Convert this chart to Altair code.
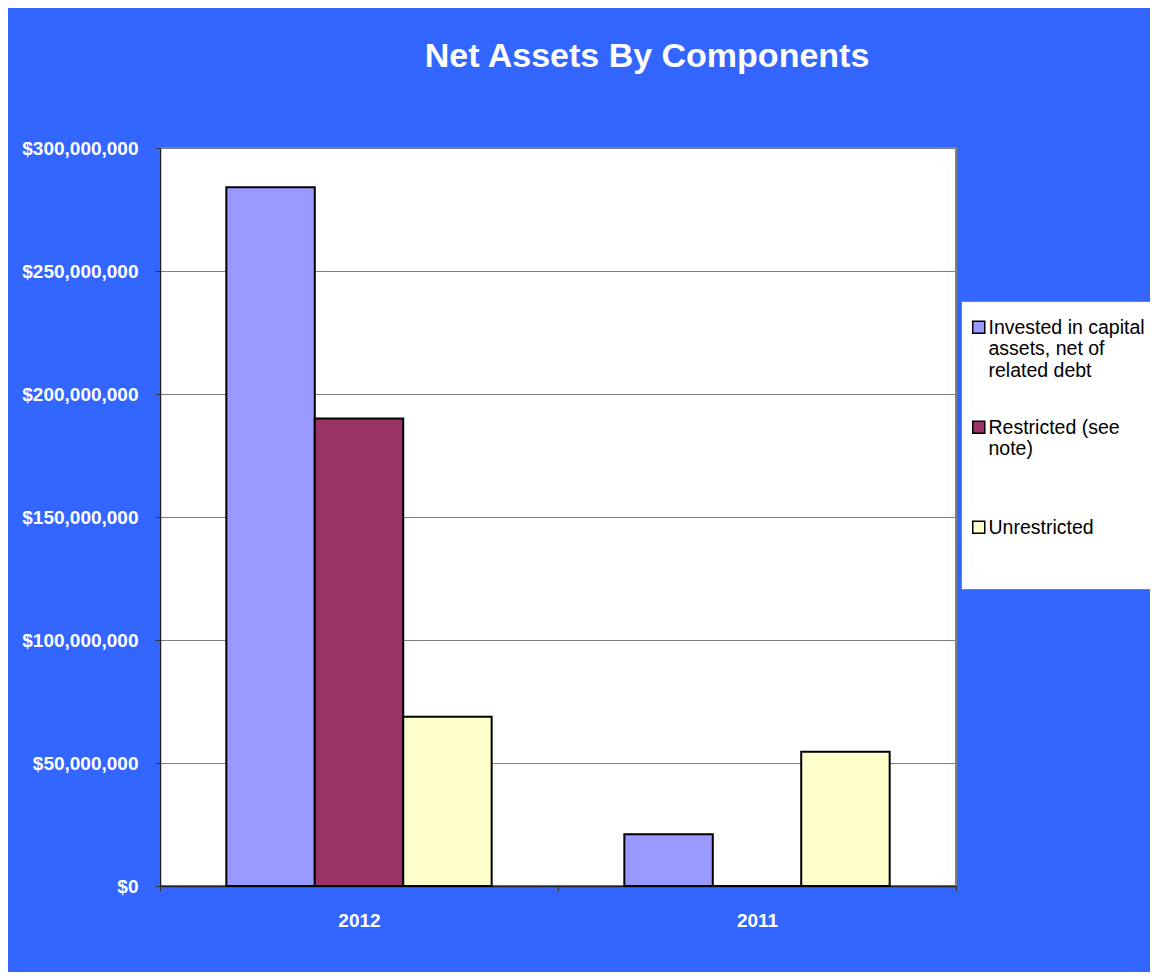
import altair as alt
import pandas as pd

years = ["2012", "2011"]
components = [
    "Invested in capital assets, net of related debt",
    "Restricted (see note)",
    "Unrestricted",
]
invested = [284_000_000, 21_000_000]
restricted = [190_000_000, 0]
unrestricted = [68_800_000, 54_600_000]
colors = ["#9999FF", "#993366", "#FFFFCC"]
y_ticks = [0, 50_000_000, 100_000_000, 150_000_000, 200_000_000, 250_000_000, 300_000_000]

rows = []
for series, vals in zip(components, [invested, restricted, unrestricted]):
    for yr, v in zip(years, vals):
        rows.append({"Year": yr, "Component": series, "Value": v})
df = pd.DataFrame(rows)

label_expr = (
    "datum.label == 'Invested in capital assets, net of related debt' ? "
    "['Invested in capital', 'assets, net of', 'related debt'] : "
    "datum.label == 'Restricted (see note)' ? ['Restricted (see', 'note)', ''] : "
    "[datum.label, '', '']"
)

FONT = "Liberation Sans"

chart = alt.Chart(df).mark_bar(stroke="black", strokeWidth=2).encode(
    x=alt.X(
        "Year:N",
        sort=years,
        scale=alt.Scale(paddingInner=0, paddingOuter=0),
        axis=alt.Axis(
            title=None, labelAngle=0, tickBand="extent", grid=False,
            labelFont=FONT, labelFontSize=19, labelFontWeight="bold", labelColor="white",
            labelPadding=20, tickSize=5, tickColor="#333333", domainColor="#222222",
            domainWidth=1.5,
        ),
    ),
    xOffset=alt.XOffset(
        "Component:N", sort=components,
        scale=alt.Scale(paddingInner=0, paddingOuter=0.75),
    ),
    y=alt.Y(
        "Value:Q",
        scale=alt.Scale(domain=[0, 300_000_000], nice=False),
        axis=alt.Axis(
            title=None, values=y_ticks, format="$,.0f",
            labelFont=FONT, labelFontSize=19, labelFontWeight="bold", labelColor="white",
            labelPadding=17, tickSize=5, tickColor="#333333",
            domainColor="#222222", domainWidth=1.5,
            gridColor="#808080", gridWidth=1,
        ),
    ),
    color=alt.Color(
        "Component:N", sort=components,
        scale=alt.Scale(domain=components, range=colors),
        legend=alt.Legend(
            title=None, orient="none", legendX=801, legendY=153,
            fillColor="white", strokeColor="#808080", padding=8,
            symbolType="M-1,0.43H1V2.43H-1Z", symbolSize=144,
            symbolStrokeColor="black", symbolStrokeWidth=1.5,
            labelFont=FONT, labelFontSize=19.5, labelColor="black",
            labelBaseline="top", labelLimit=300, labelOffset=0,
            labelExpr=label_expr, rowPadding=28,
        ),
    ),
).properties(
    width=796,
    height=738,
    title=alt.TitleParams(
        "Net Assets By Components", font=FONT, fontSize=34, fontWeight="bold",
        color="white", anchor="middle", frame="group", dx=89, baseline="alphabetic",
        offset=38,
    ),
    autosize=alt.AutoSizeParams(type="none"),
    padding={"left": 152, "top": 140, "right": 194, "bottom": 86},
    background="#3366FF",
).configure_view(
    fill="white", stroke="#808080", strokeWidth=2,
)

chart.save("out.html", embed_options={"renderer": "svg", "actions": False})
